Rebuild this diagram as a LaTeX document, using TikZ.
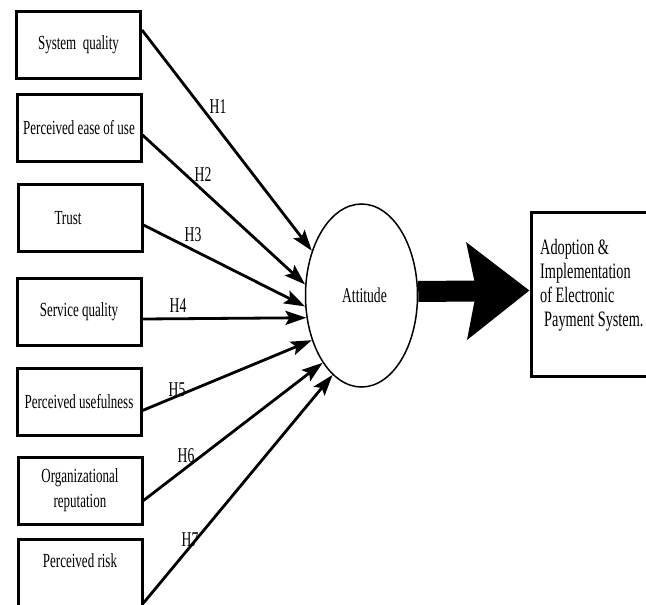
\documentclass[tikz,border=0pt]{standalone}
\usepackage{fontspec}
\setmainfont{Liberation Serif}[FakeStretch=0.65]
\usetikzlibrary{arrows.meta,calc,shapes.geometric}
\begin{document}
\begin{tikzpicture}[x=1pt,y=-1pt,
  factor/.style={draw, line width=3pt, minimum width=124pt, minimum height=67pt, inner sep=0pt, align=center, font=\fontsize{20}{25}\selectfont},
  hyp/.style={line width=2.8pt, -{Stealth[length=21pt,width=14pt,inset=4pt]}},
  hlabel/.style={font=\fontsize{21}{24}\selectfont, inner sep=0pt},
  bigarrow/.style={line width=21pt, -{Stealth[length=62pt,width=95pt,inset=9pt]}},
]
\useasboundingbox (0,0) rectangle (646,605);
\clip (0,0) rectangle (646,605);

\node[factor] (b1) at (78.5,45) {System\ \ quality};
\node[factor] (b2) at (79,128) {Perceived ease of use};
\node[factor] (b3) at (80,218) {Trust\hspace*{24pt}};
\node[factor] (b4) at (79,312) {Service quality};
\node[factor] (b5) at (79,401.5) {Perceived usefulness};
\node[factor] (b6) at (80,490.5) {Organizational\\reputation};
\node[factor] (b7) at (80,573) {Perceived risk\\\mbox{}};

\node[ellipse, draw, line width=1.5pt, minimum width=112pt, minimum height=183pt, inner sep=0pt, font=\fontsize{21}{24}\selectfont] (att) at (361.5,295.5) {\hspace*{6pt}Attitude};

\node[draw, line width=3pt, minimum width=116pt, minimum height=164pt, inner sep=0pt] (out) at (589,294.5) {};
\node[anchor=west, inner sep=0pt, align=left, font=\fontsize{22}{24}\selectfont] (outtext) at (540,285)
  {Adoption \&\\Implementation\\of Electronic\\\hspace*{4pt}Payment System.};

\draw[hyp] ($(b1.north east)+(0,20)$) -- (att.138);
\draw[hyp] ($(b2.north east)+(0,42)$) -- (att.169);
\draw[hyp] ($(b3.north east)+(0,42)$) -- (att.191);
\draw[hyp] ($(b4.north east)+(0,42)$) -- (att.202);
\draw[hyp] ($(b5.north east)+(0,44)$) -- (att.222);
\draw[hyp] ($(b6.north east)+(0,45)$) -- (att.240);
\draw[hyp] ($(b7.north east)+(0,65)$) -- (att.250);

\node[hlabel] (h1) at (218,107) {H1};
\node[hlabel] (h2) at (203,175) {H2};
\node[hlabel] (h3) at (193,235) {H3};
\node[hlabel] (h4) at (178,306) {H4};
\node[hlabel] (h5) at (177,390) {H5};
\node[hlabel] (h6) at (186,456) {H6};
\node[hlabel] (h7) at (190,540) {H7};

\draw[bigarrow] ($(att.east)+(0,-4)$) -- ($(out.west)+(0,-4)$);
\end{tikzpicture}
\end{document}
